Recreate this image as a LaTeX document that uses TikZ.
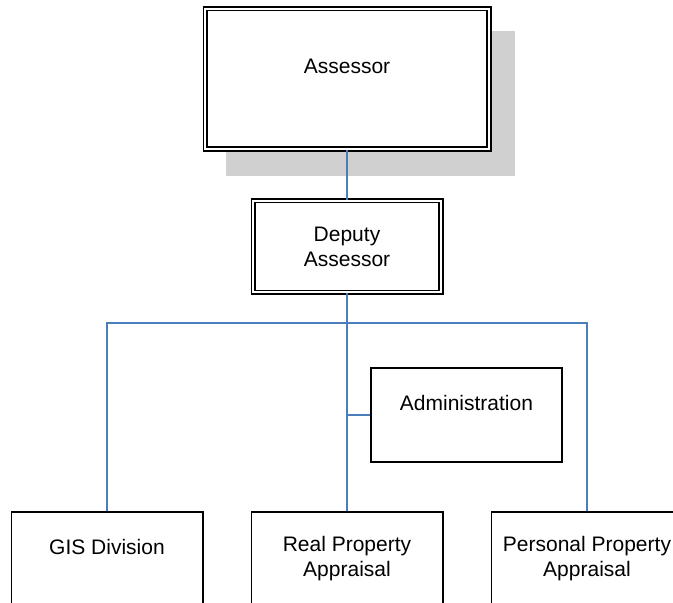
\documentclass[tikz,border=0pt]{standalone}
\usepackage{fontspec}
\setmainfont{Liberation Sans}
\definecolor{linkblue}{RGB}{74,126,187}
\definecolor{shadowgray}{RGB}{208,208,208}
\begin{document}
\begin{tikzpicture}[x=1pt,y=-1pt,
  orgtext/.style={align=center,inner sep=0pt,font=\fontsize{21}{25}\selectfont},
  unitbox/.style={orgtext,draw=black,line width=1.6pt,fill=white,
    minimum width=191.4pt,minimum height=94.4pt},
  headbox/.style={orgtext,draw=black,double=white,fill=white,line width=1.6pt,
    double distance=2.2pt},
  conn/.style={draw=linkblue,line width=1.3pt}]
\useasboundingbox (0,0) rectangle (673,603);

% drop shadow behind the top box
\fill[shadowgray] (226,31) rectangle (515,176);

% boxes
\node[headbox,minimum width=283.6pt,minimum height=140.3pt] (assessor)
  at (347,78.9) {Assessor\\\mbox{}};
\node[headbox,minimum width=187.6pt,minimum height=91.6pt] (deputy)
  at (347,246.5) {Deputy\\Assessor};
\node[unitbox] (admin) at (466.5,415) {Administration\\\mbox{}};
\node[unitbox] (gis) at (107,559) {GIS Division\\\mbox{}};
\node[unitbox] (real) at (347,559) {Real Property\\Appraisal};
\node[unitbox] (personal) at (587,559) {Personal Property\\Appraisal};

% connectors
\coordinate (bus) at (347,323);
\draw[conn] (assessor.south) -- (deputy.north);
\draw[conn] (deputy.south) -- (real.north);
\draw[conn] (gis.north) |- (bus) -| (personal.north);
\draw[conn] (admin.west) -- (admin.west -| deputy.south);
\end{tikzpicture}
\end{document}
